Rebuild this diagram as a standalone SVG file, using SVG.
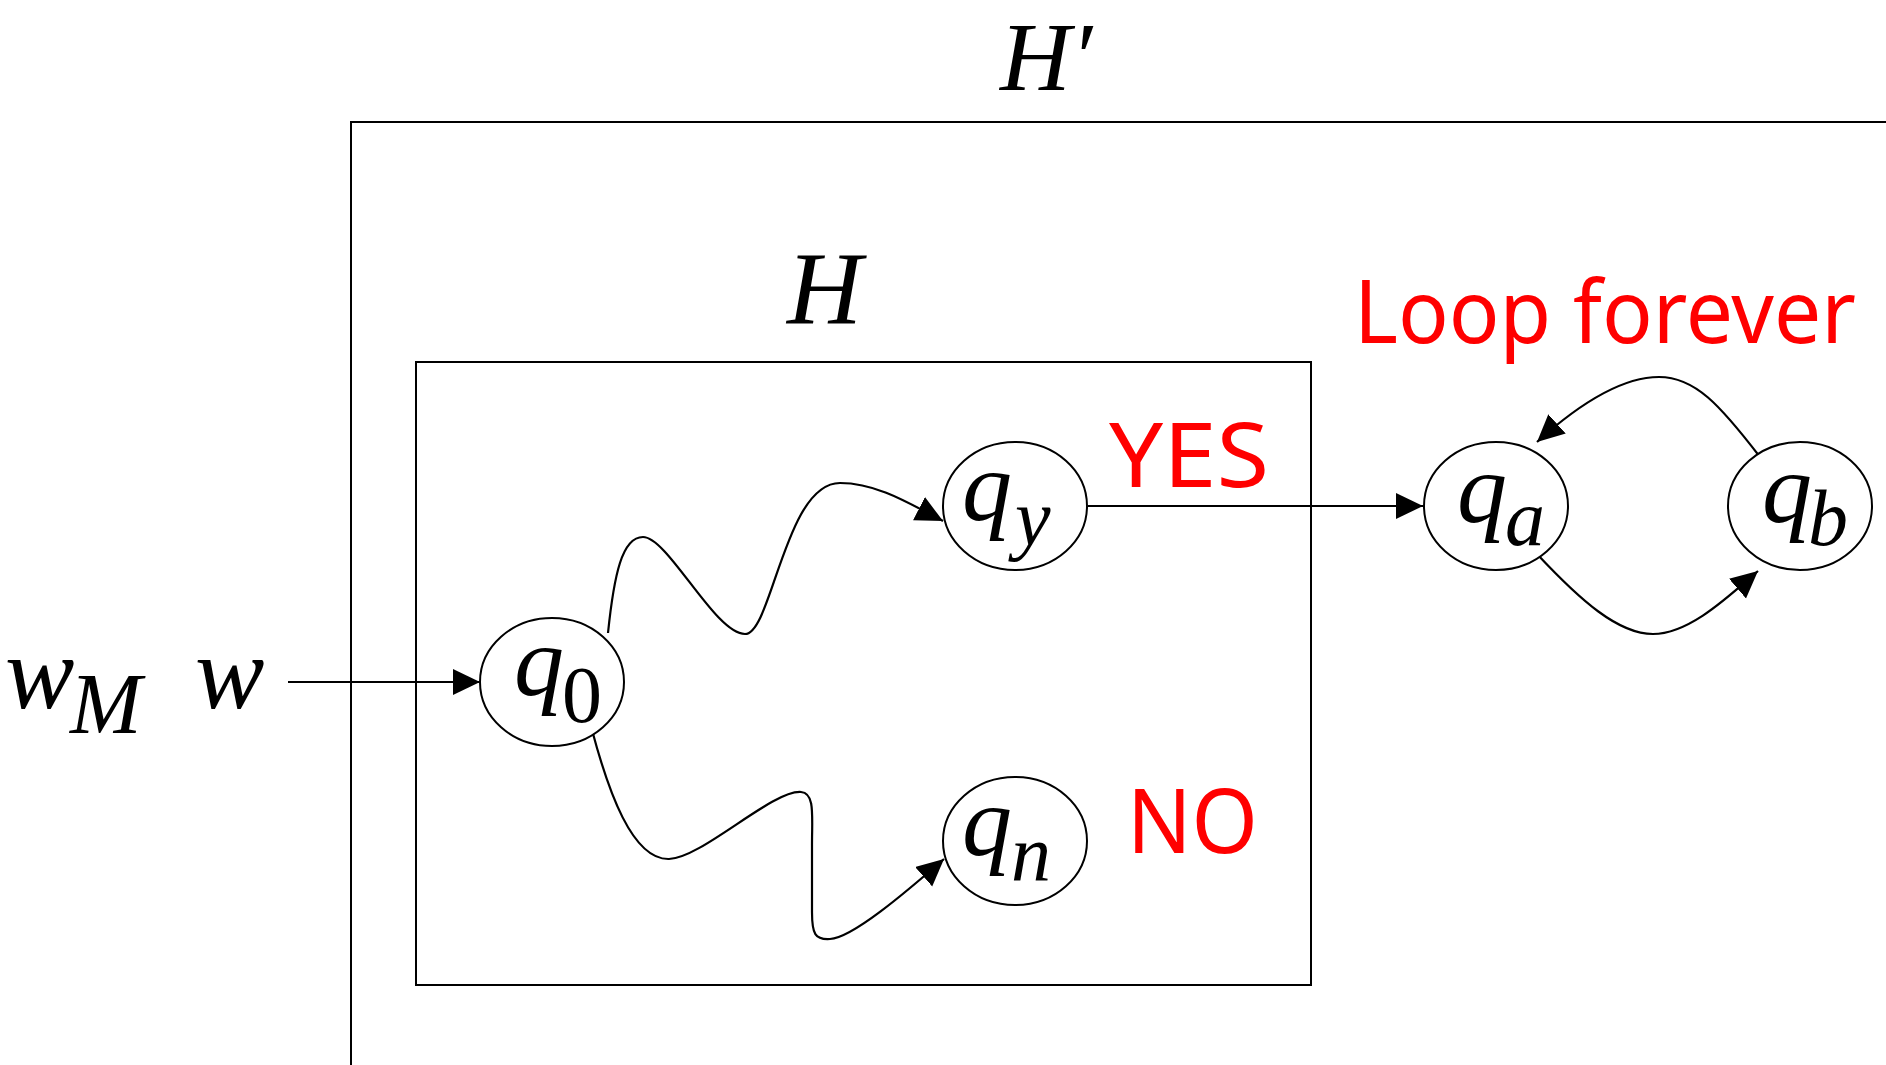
<svg xmlns="http://www.w3.org/2000/svg" width="1886" height="1065" viewBox="0 0 1886 1065">
<style>
.box{fill:none;stroke:#000;stroke-width:2}
.st{fill:#fff;stroke:#000;stroke-width:2}
.ln{fill:none;stroke:#000;stroke-width:2.2}
.m{font-family:"Liberation Serif","Times New Roman",serif;font-style:italic;fill:#000}
.r{font-family:"Liberation Serif","Times New Roman",serif;fill:#000}
.red{font-family:"Comic Sans MS","Noto Sans",sans-serif;fill:#ff0000}
</style>
<defs>
<marker id="ah" markerUnits="userSpaceOnUse" markerWidth="28" markerHeight="28" refX="27" refY="13" orient="auto">
<path d="M0,0 L27,13 L0,26 z" fill="#000"/>
</marker>
</defs>
<rect width="1886" height="1065" fill="#fff"/>
<g id="outer-box">
<path class="box" d="M351,1065 L351,122 L1886,122"/>
<text class="m" x="1000" y="90" font-size="98">H′</text>
</g>
<g id="inner-box">
<rect class="box" x="416" y="362" width="895" height="623"/>
<text class="m" x="787" y="324" font-size="104">H</text>
</g>
<g id="input-labels">
<text class="m" x="5" y="708" font-size="104">w</text>
<text class="m" x="70" y="733" font-size="86">M</text>
<text class="m" x="195" y="708" font-size="104">w</text>
</g>
<g id="connectors">
<path class="ln" d="M288,682 L480,682" marker-end="url(#ah)"/>
<path class="ln" d="M1088,506 L1423,506" marker-end="url(#ah)"/>
<path class="ln" d="M608,633 C614,575 622,537 643,537 C668,537 715,634 745,634 C772,634 785,483 840,483 C878,483 912,505 943,521" marker-end="url(#ah)"/>
<path class="ln" d="M592,730 C608,790 632,860 669,859 C702,858 772,790 801,792 C815,793 812,815 812,845 L812,912 C812,934 815,940 830,939 C852,938 905,893 944,859" marker-end="url(#ah)"/>
<path class="ln" d="M1537,554 C1580,600 1618,634 1653,634 C1690,634 1730,595 1758,571" marker-end="url(#ah)"/>
<path class="ln" d="M1760,457 C1720,405 1695,377 1659,377 C1620,377 1578,405 1537,442" marker-end="url(#ah)"/>
</g>
<g id="q0">
<ellipse class="st" cx="552" cy="682" rx="72" ry="64"/>
<text class="m" x="514" y="695" font-size="100">q</text>
<text class="r" x="562" y="722" font-size="80">0</text>
</g>
<g id="qy">
<ellipse class="st" cx="1015" cy="506" rx="72" ry="64"/>
<text class="m" x="962" y="520" font-size="100">q</text>
<text class="m" x="1015" y="545" font-size="80">y</text>
</g>
<g id="qn">
<ellipse class="st" cx="1015" cy="841" rx="72" ry="64"/>
<text class="m" x="962" y="855" font-size="100">q</text>
<text class="m" x="1011" y="880" font-size="80">n</text>
</g>
<g id="qa">
<ellipse class="st" cx="1496" cy="506" rx="72" ry="64"/>
<text class="m" x="1457" y="522" font-size="100">q</text>
<text class="m" x="1505" y="545" font-size="80">a</text>
</g>
<g id="qb">
<ellipse class="st" cx="1800" cy="506" rx="72" ry="64"/>
<text class="m" x="1762" y="522" font-size="100">q</text>
<text class="m" x="1808" y="545" font-size="80">b</text>
</g>
<g id="labels">
<text class="red" x="1109" y="487" font-size="90" textLength="160" lengthAdjust="spacingAndGlyphs">YES</text>
<text class="red" x="1127" y="853" font-size="90" textLength="131" lengthAdjust="spacingAndGlyphs">NO</text>
<text class="red" x="1354" y="343" font-size="88" textLength="502" lengthAdjust="spacingAndGlyphs">Loop forever</text>
</g>
</svg>
